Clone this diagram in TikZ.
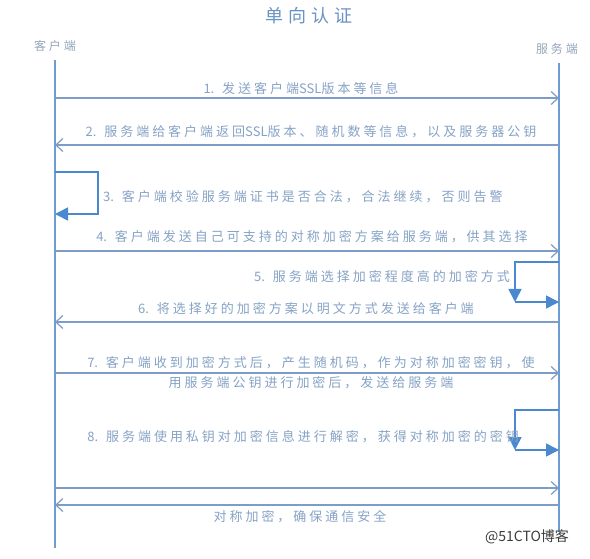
\documentclass[tikz,border=0pt]{standalone}
\usepackage{fontspec}
\setmainfont{Noto Sans CJK SC}
\newfontfamily\lblfont[LetterSpace=23]{Noto Sans CJK SC}
\newfontfamily\latfont{Noto Sans CJK SC}
\newfontfamily\ttlfont[LetterSpace=28]{Noto Sans CJK SC}
\newfontfamily\wmfont{Noto Sans CJK SC}
\newcommand{\lat}[1]{{\latfont #1}}
\usetikzlibrary{arrows.meta}
\definecolor{lifeblue}{HTML}{6E9BD1}
\definecolor{msgblue}{HTML}{7D9CC8}
\definecolor{loopblue}{HTML}{4A88CF}
\definecolor{lbltext}{HTML}{86A3C6}
\definecolor{ttltext}{HTML}{6A92C2}
\definecolor{sidetext}{HTML}{95A6BC}
\definecolor{wmtext}{HTML}{3C3C3C}
\begin{document}
\begin{tikzpicture}[x=1pt,y=-1pt,
  lifeline/.style={draw=lifeblue,line width=1.4pt},
  msg/.style={draw=msgblue,line width=1.4pt,-{Straight Barb[length=7pt,width=13pt,line width=1.2pt]}},
  selfloop/.style={draw=loopblue,line width=1.6pt,-{Triangle[length=13pt,width=13pt]}},
  lbl/.style={text=lbltext,font=\lblfont\fontsize{13pt}{20pt}\selectfont,inner sep=0pt},
  ttl/.style={text=ttltext,font=\ttlfont\fontsize{18pt}{20pt}\selectfont,inner sep=0pt},
  side/.style={text=sidetext,font=\lblfont\fontsize{12pt}{14pt}\selectfont,inner sep=0pt}]
\useasboundingbox (0,0) rectangle (590,559);
\fill[white] (0,0) rectangle (590,559);

% title and participants
\node[ttl] (title) at (309,16) {单向认证};
\node[side] (clientlbl) at (55,46) {客户端};
\node[side] (serverlbl) at (557,49) {服务端};

% lifelines
\coordinate (ctop) at (55,60);
\coordinate (cbot) at (55,548);
\coordinate (stop) at (559,63);
\coordinate (sbot) at (559,532);
\draw[lifeline] (ctop) -- (cbot);
\draw[lifeline] (stop) -- (sbot);

% message end points
\coordinate (c1) at (55,98);   \coordinate (s1) at (559,98);
\coordinate (c2) at (55,145);  \coordinate (s2) at (559,145);
\coordinate (c4) at (55,251);  \coordinate (s4) at (559,251);
\coordinate (c6) at (55,322);  \coordinate (s6) at (559,322);
\coordinate (c7) at (55,373);  \coordinate (s7) at (559,373);
\coordinate (c9) at (55,488);  \coordinate (s9) at (559,488);
\coordinate (c10) at (55,505); \coordinate (s10) at (559,505);

% 1
\draw[msg] (c1) -- (s1);
\node[lbl] (l1) at (301,89) {\lat{1.} 发送客户端\lat{SSL}版本等信息};
% 2
\draw[msg] (s2) -- (c2);
\node[lbl] (l2) at (311,132) {\lat{2.} 服务端给客户端返回\lat{SSL}版本、随机数等信息，以及服务器公钥};
% 3 self loop at client
\coordinate (l3a) at (55,172);
\coordinate (l3b) at (98,214);
\coordinate (l3c) at (55,214);
\draw[selfloop] (l3a) -| (l3b) -- (l3c);
\node[lbl,anchor=west] (l3) at (103,197) {\lat{3.} 客户端校验服务端证书是否合法，合法继续，否则告警};
% 4
\draw[msg] (c4) -- (s4);
\node[lbl] (l4) at (312,237) {\lat{4.} 客户端发送自己可支持的对称加密方案给服务端，供其选择};
% 5 self loop at server
\coordinate (l5a) at (559,262);
\coordinate (l5b) at (515,302);
\coordinate (l5c) at (559,302);
\draw[selfloop] (l5a) -| (l5b);
\draw[selfloop] (l5b) -- (l5c);
\node[lbl,anchor=east] (l5) at (510,277) {\lat{5.} 服务端选择加密程度高的加密方式};
% 6
\draw[msg] (s6) -- (c6);
\node[lbl] (l6) at (306,309) {\lat{6.} 将选择好的加密方案以明文方式发送给客户端};
% 7
\draw[msg] (c7) -- (s7);
\node[lbl,align=center] (l7) at (311,373) {\lat{7.} 客户端收到加密方式后，产生随机码，作为对称加密密钥，使\\用服务端公钥进行加密后，发送给服务端};
% 8 self loop at server
\coordinate (l8a) at (559,410);
\coordinate (l8b) at (515,450);
\coordinate (l8c) at (559,450);
\draw[selfloop] (l8a) -| (l8b);
\draw[selfloop] (l8b) -- (l8c);
\node[lbl,anchor=east] (l8) at (519,437) {\lat{8.} 服务端使用私钥对加密信息进行解密，获得对称加密的密钥};
% symmetric channel
\draw[msg] (c9) -- (s9);
\draw[msg] (s10) -- (c10);
\node[lbl] (l9) at (300,517) {对称加密，确保通信安全};

% watermark
\node[text=wmtext,font=\wmfont\fontsize{14pt}{16pt}\selectfont,inner sep=0pt] (wm) at (527,537) {@51CTO博客};
\end{tikzpicture}
\end{document}
